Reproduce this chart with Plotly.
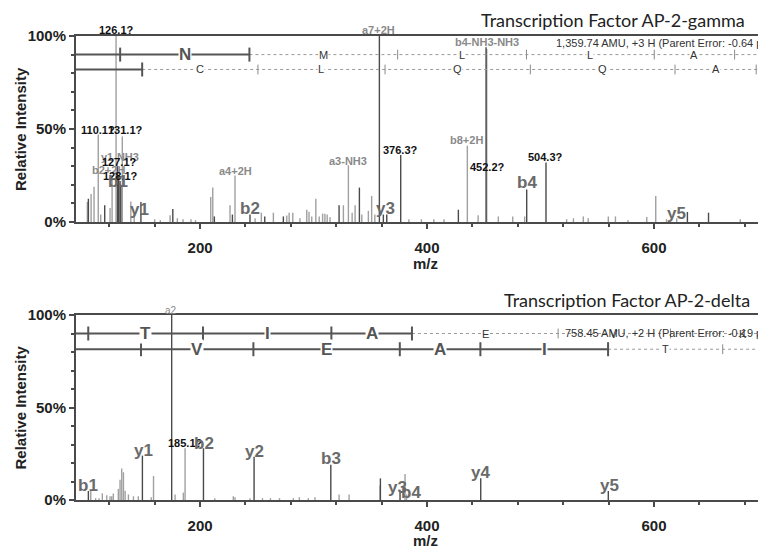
import plotly.graph_objects as go

# ---------------- data ----------------
mz_range = [90.7, 691.6]

# Top panel (AP-2-gamma) peaks
top_dark_mz = [101.6, 116.0, 127.3, 128.3, 129.5, 130.2, 147.9, 176.0, 212.6, 228.5, 244.0, 257.0,
               273.4, 322.5, 340.4, 358.0, 361.5, 364.5, 376.8, 427.6, 452.0, 487.8, 504.8, 629.4, 648.0]
top_dark_int = [12.5, 9.0, 30.0, 25.0, 22.0, 20.0, 10.7, 7.0, 3.0, 4.0, 4.0, 3.0,
                3.0, 9.0, 18.5, 100.0, 4.0, 4.0, 36.0, 6.6, 94.0, 17.5, 32.0, 5.4, 5.0]
top_light_mz = [100.7, 104.0, 106.6, 110.3, 112.5, 120.7, 122.5, 126.0, 131.5, 139.0, 142.0, 160.0,
                165.0, 173.6, 180.0, 185.0, 192.0, 196.0, 209.4, 211.2, 226.4, 230.8, 248.5, 254.0,
                264.6, 276.4, 278.5, 281.7, 288.0, 294.0, 296.0, 298.4, 302.0, 305.0, 308.0, 310.0,
                312.0, 314.5, 326.3, 330.7, 334.0, 336.6, 342.5, 348.3, 351.2, 354.0, 384.0, 395.0,
                406.0, 415.0, 435.5, 445.0, 452.6, 462.8, 475.5, 486.0, 523.0, 529.0, 537.7, 542.0,
                559.7, 566.0, 577.0, 593.6, 601.5, 611.0, 620.0, 676.0]
top_light_int = [10.8, 15.0, 19.0, 47.0, 4.0, 7.5, 25.0, 100.0, 46.0, 11.0, 5.0, 1.5,
                 1.0, 3.6, 2.0, 1.5, 1.5, 1.0, 13.4, 18.5, 9.0, 25.0, 2.0, 5.0,
                 5.0, 3.5, 5.0, 5.0, 2.0, 6.6, 5.5, 3.0, 12.5, 3.0, 4.5, 4.5,
                 4.0, 2.5, 9.0, 30.5, 5.0, 9.0, 4.0, 6.0, 14.0, 4.0, 1.5, 1.5,
                 1.5, 1.5, 41.0, 3.6, 93.0, 3.0, 3.0, 3.0, 1.5, 2.0, 3.0, 2.0,
                 3.0, 3.0, 1.0, 2.7, 14.0, 1.5, 2.0, 1.5]

# Bottom panel (AP-2-delta) peaks
bot_dark_mz = [101.6, 149.2, 175.0, 203.0, 247.6, 315.2, 358.9, 376.2, 447.3, 559.7]
bot_dark_int = [4.9, 24.0, 100.0, 28.0, 23.4, 19.0, 11.7, 4.5, 11.7, 4.9]
bot_light_mz = [103.7, 108.0, 111.0, 113.9, 117.8, 120.7, 122.2, 123.6, 128.0, 129.5, 131.0, 132.5,
                134.0, 136.9, 141.3, 145.6, 157.0, 159.0, 178.0, 185.3, 186.8, 213.0, 229.3, 230.8,
                244.0, 255.0, 262.0, 270.0, 282.2, 287.5, 295.4, 301.3, 322.5, 331.3, 358.6, 380.6, 382.0]
bot_light_int = [5.0, 1.0, 1.0, 3.6, 2.5, 2.0, 2.0, 3.5, 6.0, 11.0, 17.0, 15.0,
                 5.0, 3.0, 2.0, 2.0, 1.5, 13.0, 3.0, 4.0, 28.0, 1.0, 2.0, 1.5,
                 1.0, 1.0, 1.0, 1.0, 1.0, 1.5, 1.0, 1.5, 3.0, 3.0, 8.0, 14.0, 3.0]

# Peak annotations: text, m/z, label height (%), kind
top_labels = [
    ("126.1?", 126.1, 103.0, "mz"), ("110.1?", 110.3, 49.5, "mz"), ("131.1?", 134.0, 49.5, "mz"),
    ("y1-NH3", 129.5, 35.0, "frag"), ("127.1?", 128.6, 32.0, "mz"), ("b2+2H", 119.0, 28.0, "frag"),
    ("128.1?", 129.5, 24.7, "mz"), ("b1", 127.8, 22.0, "ion"), ("y1", 146.3, 6.5, "ion"),
    ("a4+2H", 230.8, 27.4, "frag"), ("b2", 244.0, 7.0, "ion"), ("a3-NH3", 330.4, 32.8, "frag"),
    ("a7+2H", 356.8, 103.0, "frag"), ("376.3?", 377.0, 38.7, "mz"), ("y3", 363.0, 7.0, "ion"),
    ("b8+2H", 435.0, 44.0, "frag"), ("b4-NH3-NH3", 452.9, 96.8, "frag"), ("452.2?", 452.9, 29.6, "mz"),
    ("b4", 488.0, 21.0, "ion"), ("504.3?", 504.8, 35.0, "mz"), ("y5", 619.4, 4.8, "ion"),
]
bot_labels = [
    ("a2", 174.4, 102.5, "small"), ("b1", 101.3, 7.6, "ion"), ("y1", 149.8, 27.0, "ion"),
    ("185.1?", 186.8, 30.8, "mz"), ("b2", 203.5, 30.8, "ion"), ("y2", 247.6, 26.0, "ion"),
    ("b3", 315.4, 22.7, "ion"), ("y3", 374.4, 6.5, "ion"), ("b4", 386.0, 3.8, "ion"),
    ("y4", 446.7, 15.0, "ion"), ("y5", 560.4, 7.6, "ion"),
]

# Sequence ladders: boundaries (m/z), residues, number of matched (solid) boundaries, row level (%)
top_ladders = [
    ([129.6, 243.5, 374.1, 487.6, 600.2, 671.0], ["N", "M", "L", "L", "A"], 2, 90.0),
    ([149.0, 251.0, 363.0, 491.0, 618.5, 690.0], ["C", "L", "Q", "Q", "A"], 1, 82.0),
]
bot_ladders = [
    ([101.5, 202.6, 315.7, 386.7, 515.5, 614.5, 742.7], ["T", "I", "A", "E", "V", "K"], 4, 90.0),
    ([148.0, 247.0, 376.0, 447.0, 559.5, 660.5], ["V", "E", "A", "I", "T"], 5, 81.5),
]

titles = ["Transcription Factor AP-2-gamma", "Transcription Factor AP-2-delta"]
infos = ["1,359.74 AMU, +3 H (Parent Error: -0.64 ppm)", "758.45 AMU, +2 H (Parent Error: -0.19 ppm)"]
y_tickvals = [0, 50, 100]
y_ticktext = ["0%", "50%", "100%"]
x_tickvals = [200, 400, 600]
x_ticktext = ["200", "400", "600"]

# ---------------- figure ----------------
W, H = 758, 550
fig = go.Figure()

DARK = "#4a4a4a"
LIGHT = "#a0a0a0"


def sticks(mz, inten):
    xs, ys = [], []
    for m, h in zip(mz, inten):
        xs += [m, m, None]
        ys += [0, h, None]
    return xs, ys


def add_sticks(mz, inten, color, xa, ya):
    xs, ys = sticks(mz, inten)
    fig.add_trace(go.Scatter(x=xs, y=ys, mode="lines", line=dict(color=color, width=1.4),
                             xaxis=xa, yaxis=ya, hoverinfo="skip", showlegend=False))


def add_ladder(bounds, letters, n_solid, level, xa, ya):
    last = bounds[n_solid - 1]
    fig.add_trace(go.Scatter(x=[mz_range[0], last], y=[level, level], mode="lines",
                             line=dict(color="#555555", width=2), xaxis=xa, yaxis=ya,
                             hoverinfo="skip", showlegend=False))
    fig.add_trace(go.Scatter(x=[last, mz_range[1]], y=[level, level], mode="lines",
                             line=dict(color="#9a9a9a", width=1, dash="dot"), xaxis=xa, yaxis=ya,
                             hoverinfo="skip", showlegend=False))
    fig.add_trace(go.Scatter(x=bounds[:n_solid], y=[level] * n_solid, mode="markers",
                             marker=dict(symbol="line-ns", size=10, line=dict(color="#555555", width=2)),
                             xaxis=xa, yaxis=ya, hoverinfo="skip", showlegend=False))
    fig.add_trace(go.Scatter(x=bounds[n_solid:], y=[level] * (len(bounds) - n_solid), mode="markers",
                             marker=dict(symbol="line-ns", size=7, line=dict(color="#8a8a8a", width=1)),
                             xaxis=xa, yaxis=ya, hoverinfo="skip", showlegend=False))
    for i, letter in enumerate(letters):
        mid = (bounds[i] + bounds[i + 1]) / 2
        if mid > mz_range[1]:
            continue
        solid = (i + 1) < n_solid
        fig.add_annotation(x=mid, y=level / 100, xref=xa, yref=ya + " domain", text=letter,
                           showarrow=False, bgcolor="white", borderpad=0,
                           xanchor="center", yanchor="middle",
                           font=dict(family="Arial", size=17 if solid else 11,
                                     color="#555555" if solid else "#333333",
                                     weight="bold" if solid else "normal"))


label_styles = {
    "mz": dict(family="Arial", size=11, color="#111111", weight="bold"),
    "frag": dict(family="Arial", size=11, color="#8a8a8a", weight="bold"),
    "ion": dict(family="Arial", size=17, color="#6a6a6a", weight="bold"),
    "small": dict(family="Arial", size=10, color="#8a8a8a", weight="normal"),
}

panels = [
    dict(xa="x", ya="y", dark=(top_dark_mz, top_dark_int), light=(top_light_mz, top_light_int),
         labels=top_labels, ladders=top_ladders),
    dict(xa="x2", ya="y2", dark=(bot_dark_mz, bot_dark_int), light=(bot_light_mz, bot_light_int),
         labels=bot_labels, ladders=bot_ladders),
]

for p in panels:
    add_sticks(*p["light"], LIGHT, p["xa"], p["ya"])
    add_sticks(*p["dark"], DARK, p["xa"], p["ya"])
    for bounds, letters, n_solid, level in p["ladders"]:
        add_ladder(bounds, letters, n_solid, level, p["xa"], p["ya"])
    for text, mz, yl, kind in p["labels"]:
        fig.add_annotation(x=mz, y=yl / 100, xref=p["xa"], yref=p["ya"] + " domain", text=text,
                           showarrow=False, xanchor="center", yanchor="middle",
                           font=label_styles[kind])

# geometry (pixels -> paper)
left_px = 76
top_dom = [(H - 222) / H, (H - 36) / H]
bot_dom = [(H - 500) / H, (H - 315) / H]
xdom = [left_px / W, 1.0]

axis_common_x = dict(range=mz_range, showgrid=False, zeroline=False, showline=True, mirror=True,
                     automargin=False,
                     linecolor="#4a4a4a", linewidth=2, ticks="outside", ticklen=5, tickwidth=2,
                     tickcolor="#4a4a4a", tickvals=x_tickvals, ticktext=x_ticktext,
                     tickfont=dict(family="Arial", size=15, color="#222222", weight="bold"),
                     ticklabelstandoff=6,
                     minor=dict(dtick=40, tick0=0, ticks="outside", ticklen=3, tickcolor="#4a4a4a",
                                tickwidth=1.5),
                     domain=xdom)
axis_common_y = dict(range=[0, 100], showgrid=False, zeroline=False, showline=True,
                     automargin=False,
                     linecolor="#4a4a4a", linewidth=2, ticks="outside", ticklen=5, tickwidth=2,
                     tickcolor="#4a4a4a", tickvals=y_tickvals, ticktext=y_ticktext,
                     tickfont=dict(family="Arial", size=15, color="#222222", weight="bold"),
                     minor=dict(dtick=10, tick0=0, ticks="outside", ticklen=3, tickcolor="#4a4a4a",
                                tickwidth=1.5))

fig.update_layout(
    width=W, height=H, margin=dict(l=0, r=0, t=0, b=0, autoexpand=False),
    paper_bgcolor="white", plot_bgcolor="white", showlegend=False,
    xaxis=dict(axis_common_x, anchor="y"),
    yaxis=dict(axis_common_y, domain=top_dom, anchor="x"),
    xaxis2=dict(axis_common_x, anchor="y2"),
    yaxis2=dict(axis_common_y, domain=bot_dom, anchor="x2"),
)

# panel texts
for i, (dom, title, info) in enumerate(zip([top_dom, bot_dom], titles, infos)):
    title_y = [(H - 20) / H, (H - 300) / H][i]
    title_x = [747 / W, 752 / W][i]
    info_y = [(H - 43) / H, (H - 333) / H][i]
    info_x = [554 / W, 563 / W][i]
    mz_y = [(H - 263) / H, (H - 540) / H][i]
    ylab_y = (dom[0] + dom[1]) / 2
    fig.add_annotation(x=title_x, y=title_y, xref="paper", yref="paper", text=title, showarrow=False,
                       xanchor="right", yanchor="middle",
                       font=dict(family="Lato", size=18, color="#222222"))
    fig.add_annotation(x=info_x, y=info_y, xref="paper", yref="paper", text=info, showarrow=False,
                       xanchor="left", yanchor="middle",
                       font=dict(family="Arial", size=11, color="#333333"))
    fig.add_annotation(x=425 / W, y=mz_y, xref="paper", yref="paper", text="m/z", showarrow=False,
                       xanchor="center", yanchor="middle",
                       font=dict(family="Arial", size=15, color="#222222", weight="bold"))
    fig.add_annotation(x=20 / W, y=ylab_y, xref="paper", yref="paper", text="Relative Intensity",
                       showarrow=False, textangle=-90, xanchor="center", yanchor="middle",
                       font=dict(family="Arial", size=15, color="#222222", weight="bold"))

fig.write_html("out.html", config={"displayModeBar": False},
               post_script="document.body.style.margin='0';document.body.style.overflow='hidden';")
